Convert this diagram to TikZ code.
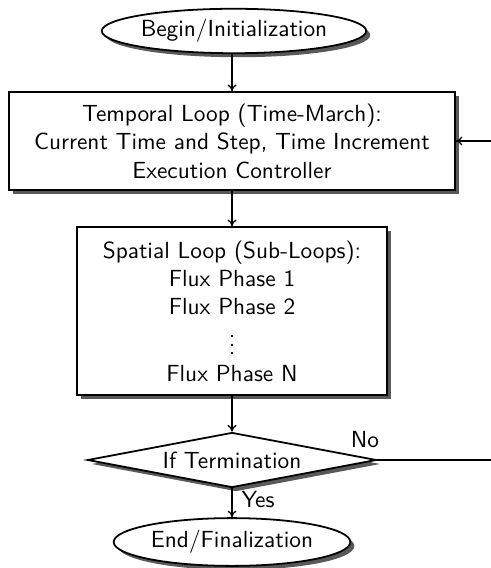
\documentclass[tikz,border=0pt]{standalone}
\usetikzlibrary{shapes.geometric,shadows,arrows.meta}
\tikzset{
  shd/.style={drop shadow={shadow xshift=1.8pt,shadow yshift=-1.8pt,fill=black,opacity=0.65}},
  txt/.style={font=\sffamily\fontsize{10.5}{12.8}\selectfont},
  termnode/.style={ellipse,draw,line width=0.8pt,fill=white,shd,inner sep=0pt,txt},
  procnode/.style={rectangle,draw,line width=0.8pt,fill=white,shd,inner sep=0pt,align=center,txt},
  decnode/.style={diamond,draw,line width=0.8pt,fill=white,shd,inner sep=0pt,aspect=5.25,txt},
  conn/.style={line width=0.6pt,-{To[length=3pt,width=4pt]}},
  lbl/.style={txt,inner sep=0pt}
}
\begin{document}
\begin{tikzpicture}[x=0.45pt,y=-0.45pt]
\useasboundingbox (0,0) rectangle (491,568);
\node[termnode,minimum width=119pt,minimum height=20pt] (begin) at (234,31) {Begin/Initialization};
\node[procnode,minimum width=200.5pt,minimum height=44pt] (temporal) at (232,141)
  {Temporal Loop (Time-March):\\Current Time and Step, Time Increment\\Execution Controller};
\node[procnode,minimum width=139.5pt,minimum height=75.5pt] (spatial) at (232,311)
  {Spatial Loop (Sub-Loops):\\Flux Phase 1\\Flux Phase 2\\[2pt]$\vdots$\\[-1pt]Flux Phase N};
\node[decnode,minimum width=130pt,minimum height=24.75pt] (dec) at (232,460) {If Termination};
\node[termnode,minimum width=106.5pt,minimum height=21.5pt] (end) at (232,542) {End/Finalization};
\coordinate (c1) at (494,460);
\coordinate (c2) at (494,141);
\draw[conn] (begin.south -| temporal.north) -- (temporal.north);
\draw[conn] (temporal) -- (spatial);
\draw[conn] (spatial) -- (dec);
\draw[conn] (dec) -- node[lbl,right=4pt,pos=0.4] {Yes} (end);
\draw[conn] (dec.east) -- (c1) -- (c2) -- (temporal.east);
\node[lbl] (no) at (365,440) {No};
\end{tikzpicture}
\end{document}
